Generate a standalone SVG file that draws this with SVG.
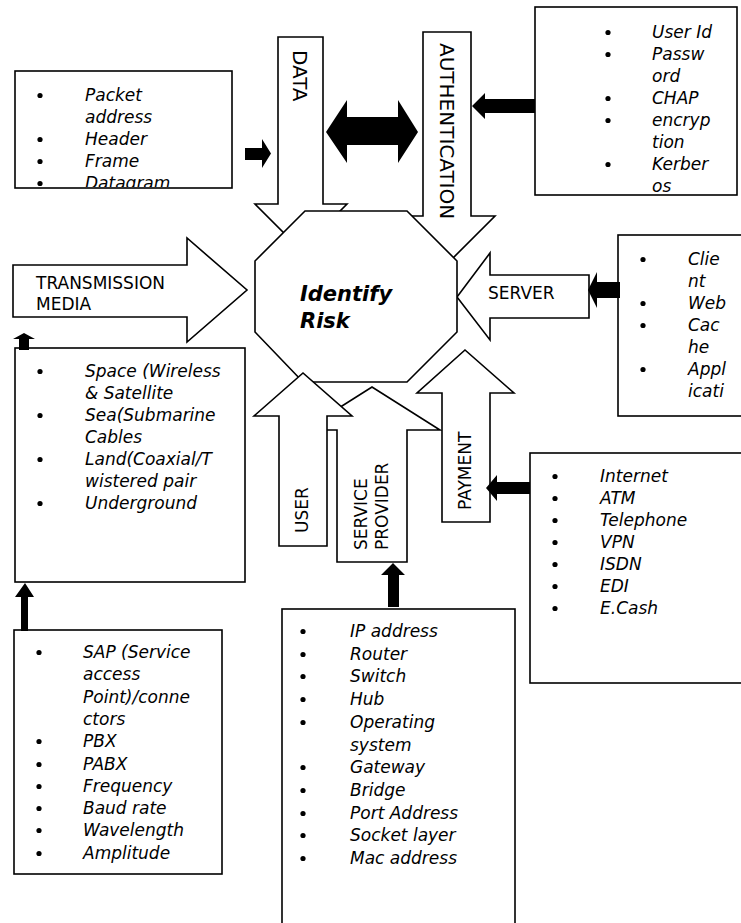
<svg xmlns="http://www.w3.org/2000/svg" width="741" height="923" viewBox="0 0 741 923">
  <style>
    .box { fill: #fff; stroke: #000; stroke-width: 1.6; }
    .arrow { fill: #fff; stroke: #000; stroke-width: 1.6; stroke-linejoin: miter; }
    .solid { fill: #000; stroke: none; }
    .item { font-family: "DejaVu Sans", "Liberation Sans", sans-serif; font-style: italic; font-size: 17px; fill: #000; }
    .label { font-family: "DejaVu Sans", "Liberation Sans", sans-serif; font-size: 17px; fill: #000; }
    .big { font-size: 20px; }
    .core { font-family: "DejaVu Sans", "Liberation Sans", sans-serif; font-style: italic; font-weight: bold; font-size: 21px; fill: #000; }
    .dot { fill: #000; }
  </style>
  <defs>
    <clipPath id="clipPacket">
      <rect x="16" y="72" width="215" height="115"/>
    </clipPath>
  </defs>

  <rect width="741" height="923" fill="#fff"/>

  <!-- Packet details box -->
  <g id="packet-box">
    <rect class="box" x="15" y="71" width="217" height="117"/>
    <g clip-path="url(#clipPacket)">
      <circle class="dot" cx="40" cy="95.5" r="2.6"/>
      <text class="item" x="85" y="101">Packet</text>
      <text class="item" x="85" y="123">address</text>
      <circle class="dot" cx="40" cy="139.5" r="2.6"/>
      <text class="item" x="85" y="145">Header</text>
      <circle class="dot" cx="40" cy="161.5" r="2.6"/>
      <text class="item" x="85" y="167">Frame</text>
      <circle class="dot" cx="40" cy="183.5" r="2.6"/>
      <text class="item" x="85" y="189">Datagram</text>
    </g>
  </g>

  <!-- Authentication details box -->
  <g id="auth-box">
    <rect class="box" x="535" y="7" width="202" height="188"/>
    <circle class="dot" cx="608" cy="32.5" r="2.6"/>
    <text class="item" x="652" y="38">User Id</text>
    <circle class="dot" cx="608" cy="54.5" r="2.6"/>
    <text class="item" x="652" y="60">Passw</text>
    <text class="item" x="652" y="82">ord</text>
    <circle class="dot" cx="608" cy="98.5" r="2.6"/>
    <text class="item" x="652" y="104">CHAP</text>
    <circle class="dot" cx="608" cy="120.5" r="2.6"/>
    <text class="item" x="652" y="126">encryp</text>
    <text class="item" x="652" y="148">tion</text>
    <circle class="dot" cx="608" cy="164.5" r="2.6"/>
    <text class="item" x="652" y="170">Kerber</text>
    <text class="item" x="652" y="192">os</text>
  </g>

  <!-- Server details box -->
  <g id="server-box">
    <rect class="box" x="618" y="235" width="140" height="181"/>
    <circle class="dot" cx="643" cy="259.5" r="2.6"/>
    <text class="item" x="688" y="265">Clie</text>
    <text class="item" x="688" y="287">nt</text>
    <circle class="dot" cx="643" cy="303.5" r="2.6"/>
    <text class="item" x="688" y="309">Web</text>
    <circle class="dot" cx="643" cy="325.5" r="2.6"/>
    <text class="item" x="688" y="331">Cac</text>
    <text class="item" x="688" y="353">he</text>
    <circle class="dot" cx="643" cy="369.5" r="2.6"/>
    <text class="item" x="688" y="375">Appl</text>
    <text class="item" x="688" y="397">icati</text>
  </g>

  <!-- Transmission media details box -->
  <g id="media-box">
    <rect class="box" x="15" y="348" width="230" height="234"/>
    <circle class="dot" cx="40" cy="371.5" r="2.6"/>
    <text class="item" x="85" y="377">Space (Wireless</text>
    <text class="item" x="85" y="399">&amp; Satellite</text>
    <circle class="dot" cx="40" cy="415.5" r="2.6"/>
    <text class="item" x="85" y="421">Sea(Submarine</text>
    <text class="item" x="85" y="443">Cables</text>
    <circle class="dot" cx="40" cy="459.5" r="2.6"/>
    <text class="item" x="85" y="465">Land(Coaxial/T</text>
    <text class="item" x="85" y="487">wistered pair</text>
    <circle class="dot" cx="40" cy="503.5" r="2.6"/>
    <text class="item" x="85" y="509">Underground</text>
  </g>

  <!-- Physical access details box -->
  <g id="access-box">
    <rect class="box" x="14" y="630" width="208" height="244"/>
    <circle class="dot" cx="39" cy="652.5" r="2.6"/>
    <text class="item" x="83" y="658">SAP (Service</text>
    <text class="item" x="83" y="680">access</text>
    <text class="item" x="83" y="703">Point)/conne</text>
    <text class="item" x="83" y="725">ctors</text>
    <circle class="dot" cx="39" cy="741.5" r="2.6"/>
    <text class="item" x="83" y="747">PBX</text>
    <circle class="dot" cx="39" cy="764.5" r="2.6"/>
    <text class="item" x="83" y="770">PABX</text>
    <circle class="dot" cx="39" cy="786.5" r="2.6"/>
    <text class="item" x="83" y="792">Frequency</text>
    <circle class="dot" cx="39" cy="808.5" r="2.6"/>
    <text class="item" x="83" y="814">Baud rate</text>
    <circle class="dot" cx="39" cy="830.5" r="2.6"/>
    <text class="item" x="83" y="836">Wavelength</text>
    <circle class="dot" cx="39" cy="853.5" r="2.6"/>
    <text class="item" x="83" y="859">Amplitude</text>
  </g>

  <!-- Network equipment details box -->
  <g id="network-box">
    <rect class="box" x="282" y="609" width="233" height="330"/>
    <circle class="dot" cx="303" cy="631.5" r="2.6"/>
    <text class="item" x="350" y="637">IP address</text>
    <circle class="dot" cx="303" cy="654.5" r="2.6"/>
    <text class="item" x="350" y="660">Router</text>
    <circle class="dot" cx="303" cy="676.5" r="2.6"/>
    <text class="item" x="350" y="682">Switch</text>
    <circle class="dot" cx="303" cy="699.5" r="2.6"/>
    <text class="item" x="350" y="705">Hub</text>
    <circle class="dot" cx="303" cy="722.5" r="2.6"/>
    <text class="item" x="350" y="728">Operating</text>
    <text class="item" x="350" y="751">system</text>
    <circle class="dot" cx="303" cy="767.5" r="2.6"/>
    <text class="item" x="350" y="773">Gateway</text>
    <circle class="dot" cx="303" cy="790.5" r="2.6"/>
    <text class="item" x="350" y="796">Bridge</text>
    <circle class="dot" cx="303" cy="813.5" r="2.6"/>
    <text class="item" x="350" y="819">Port Address</text>
    <circle class="dot" cx="303" cy="835.5" r="2.6"/>
    <text class="item" x="350" y="841">Socket layer</text>
    <circle class="dot" cx="303" cy="858.5" r="2.6"/>
    <text class="item" x="350" y="864">Mac address</text>
  </g>

  <!-- Payment channel details box -->
  <g id="payment-box">
    <rect class="box" x="530" y="453" width="230" height="230"/>
    <circle class="dot" cx="555" cy="476.5" r="2.6"/>
    <text class="item" x="600" y="482">Internet</text>
    <circle class="dot" cx="555" cy="498.5" r="2.6"/>
    <text class="item" x="600" y="504">ATM</text>
    <circle class="dot" cx="555" cy="520.5" r="2.6"/>
    <text class="item" x="600" y="526">Telephone</text>
    <circle class="dot" cx="555" cy="542.5" r="2.6"/>
    <text class="item" x="600" y="548">VPN</text>
    <circle class="dot" cx="555" cy="564.5" r="2.6"/>
    <text class="item" x="600" y="570">ISDN</text>
    <circle class="dot" cx="555" cy="586.5" r="2.6"/>
    <text class="item" x="600" y="592">EDI</text>
    <circle class="dot" cx="555" cy="608.5" r="2.6"/>
    <text class="item" x="600" y="614">E.Cash</text>
  </g>

  <!-- Block arrows pointing into the central node -->
  <g id="connectors">
    <g id="data-arrow">
      <polygon class="arrow" points="278,37 323,37 323,204 347,204 301,250 255,204 278,204"/>
      <text class="label big" transform="translate(293,50) rotate(90)">DATA</text>
    </g>
    <g id="auth-arrow">
      <polygon class="arrow" points="423,32 471,32 471,216 495,216 447,264 399,216 423,216"/>
      <text class="label big" transform="translate(440,43) rotate(90)">AUTHENTICATION</text>
    </g>
    <g id="media-arrow">
      <polygon class="arrow" points="13,265 187,265 187,238 247,290 187,342 187,317 13,317"/>
      <text class="label" x="36" y="289">TRANSMISSION</text>
      <text class="label" x="36" y="310">MEDIA</text>
    </g>
    <g id="server-arrow">
      <polygon class="arrow" points="589,275 490,275 490,253 457,297 490,340 490,318 589,318"/>
      <text class="label" x="488" y="299">SERVER</text>
    </g>

    <!-- Central node drawn over the arrow heads -->
    <g id="identify-risk">
      <polygon class="box" points="305,211 407,211 457,261 457,332 407,382 303,382 255,332 255,261"/>
      <text class="core" x="300" y="301">Identify</text>
      <text class="core" x="300" y="328">Risk</text>
    </g>

    <g id="provider-arrow">
      <polygon class="arrow" points="337,562 407,562 407,430 440,430 372,387 304,430 337,430"/>
      <text class="label" transform="translate(367,550) rotate(-90)">SERVICE</text>
      <text class="label" transform="translate(388,550) rotate(-90)">PROVIDER</text>
    </g>
    <g id="user-arrow">
      <polygon class="arrow" points="279,546 327,546 327,416 352,416 303,373 254,416 279,416"/>
      <text class="label" transform="translate(308,533) rotate(-90)">USER</text>
    </g>
    <g id="payment-arrow">
      <polygon class="arrow" points="442,522 490,522 490,393 514,393 465,350 417,393 442,393"/>
      <text class="label" transform="translate(471,510) rotate(-90)">PAYMENT</text>
    </g>

    <!-- Solid black feeder arrows -->
    <polygon class="solid" points="245,148 262,148 262,139 271,153.5 262,168 262,160 245,160"/>
    <polygon class="solid" points="326,132 347,100 347,117 398,117 398,100 418,132 398,163 398,145 347,145 347,163"/>
    <polygon class="solid" points="535,99 485,99 485,93 472,106 485,119 485,113 535,113"/>
    <polygon class="solid" points="620,282 597,282 597,272 588,290 597,308 597,298 620,298"/>
    <polygon class="solid" points="530,482 497,482 497,475 486,488 497,501 497,494 530,494"/>
    <polygon class="solid" points="19,350 29,350 29,339 35,339 24,333 13,339 19,339"/>
    <polygon class="solid" points="21,631 28,631 28,597 34,597 25,583 15,597 21,597"/>
    <polygon class="solid" points="388,607 399,607 399,575 405,575 393,563 381,575 388,575"/>
  </g>
</svg>
